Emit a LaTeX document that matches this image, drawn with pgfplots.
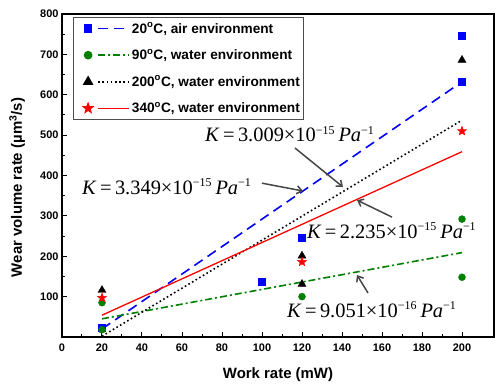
\documentclass[border=0pt]{standalone}
\usepackage{fontspec}
\setmainfont{Liberation Sans}
\newfontfamily\tnr{Liberation Serif}
\usepackage{pgfplots}
\pgfplotsset{compat=1.18}
\usetikzlibrary{arrows.meta}
\definecolor{ogreen}{RGB}{0,128,0}
\definecolor{agray}{RGB}{70,70,70}
\pgfdeclareplotmark{fstar}{%
  \pgfpathmoveto{\pgfpointpolar{90}{\pgfplotmarksize}}%
  \pgfpathlineto{\pgfpointpolar{126}{0.42\pgfplotmarksize}}%
  \pgfpathlineto{\pgfpointpolar{162}{\pgfplotmarksize}}%
  \pgfpathlineto{\pgfpointpolar{198}{0.42\pgfplotmarksize}}%
  \pgfpathlineto{\pgfpointpolar{234}{\pgfplotmarksize}}%
  \pgfpathlineto{\pgfpointpolar{270}{0.42\pgfplotmarksize}}%
  \pgfpathlineto{\pgfpointpolar{306}{\pgfplotmarksize}}%
  \pgfpathlineto{\pgfpointpolar{342}{0.42\pgfplotmarksize}}%
  \pgfpathlineto{\pgfpointpolar{18}{\pgfplotmarksize}}%
  \pgfpathlineto{\pgfpointpolar{54}{0.42\pgfplotmarksize}}%
  \pgfpathclose
  \pgfusepathqfillstroke
}
\pgfplotsset{mklegend/.style={legend image code/.code={%
  \path (-13bp,0bp);
  \draw[##1, mark=none] (10bp,0bp) -- (41bp,0bp);
  \path[##1] plot coordinates {(0bp,0bp)};}}}
\newcommand{\Kval}[2]{{\tnr\fontsize{20.5}{22}\selectfont\textit{K}\,=\,#1\texttimes10\textsuperscript{\fontsize{12}{12}\selectfont−#2}\,\textit{Pa}\textsuperscript{\fontsize{12}{12}\selectfont−1}}}
\begin{document}
\begin{tikzpicture}
\begin{axis}[
  scale only axis,
  width=432bp, height=323bp,
  xmin=0, xmax=216, ymin=0, ymax=800,
  xtick={0,20,...,200}, ytick={100,200,...,800},
  extra y ticks={0}, extra y tick labels={},
  minor x tick num=1, minor y tick num=1,
  tick align=inside, xtick pos=bottom, ytick pos=left,
  major tick length=5bp, minor tick length=3bp,
  axis line style={line width=1.2bp},
  every tick/.style={black, line width=1bp},
  /pgf/number format/assume math mode=true,
  tick label style={font=\fontsize{11}{13}\selectfont\bfseries},
  xticklabel style={yshift=-3bp},
  xlabel={Work rate (mW)},
  ylabel={Wear volume rate (\textmu m\textsuperscript{3}/s)},
  label style={font=\fontsize{15}{17}\selectfont\bfseries},
  xlabel style={at={(axis description cs:0.5,-0.130)}, anchor=base},
  ylabel style={at={(axis description cs:-0.104,0.463)}, anchor=center},
  legend cell align=left,
  legend style={at={(axis description cs:0.0255,0.991)}, anchor=north west,
    font=\fontsize{13.7}{15}\selectfont\bfseries, draw=black!70, line width=0.6bp,
    row sep=10.7bp, inner xsep=1bp, inner ysep=3.5bp, nodes={inner sep=2bp}},
  clip=true,
]
% fits
\addplot[blue, line width=1.6bp, dash pattern=on 10bp off 6bp, forget plot] coordinates {(20,20) (200,632)};
\addplot[ogreen, line width=1.6bp, dash pattern=on 7bp off 3bp on 2bp off 3bp, forget plot] coordinates {(20,45) (200,209)};
\addplot[black, line width=1.6bp, dash pattern=on 1.6bp off 2.6bp, forget plot] coordinates {(20,2) (200,537)};
\addplot[red, line width=1.3bp, forget plot] coordinates {(20,54) (200,459)};
% data
\addplot[only marks, mark=square*, mark size=3.5bp, blue, forget plot] coordinates {(20,22) (100,136) (120,246) (200,632) (200,746)};
\addplot[only marks, mark=*, mark size=3.5bp, ogreen, forget plot] coordinates {(20,18) (20,85) (120,100) (200,148) (200,292)};
\addplot[only marks, mark=triangle*, mark size=4.6bp, black, forget plot] coordinates {(20,116) (120,131) (120,201) (200,686)};
\addplot[only marks, mark=fstar, mark size=4.8bp, red, forget plot] coordinates {(20,97) (120,186) (200,510)};
% legend
\addlegendimage{blue, line width=1.6bp, dash pattern=on 10bp off 6bp, mark=square*, mark size=3.5bp, mark options={solid}, mklegend}
\addlegendentry{20\textsuperscript{o}C, air environment}
\addlegendimage{ogreen, line width=1.6bp, dash pattern=on 7bp off 3bp on 2bp off 3bp, mark=*, mark size=3.5bp, mark options={solid}, mklegend}
\addlegendentry{90\textsuperscript{o}C, water environment}
\addlegendimage{black, line width=1.6bp, dash pattern=on 1.6bp off 2.6bp, mark=triangle*, mark size=4.6bp, mark options={solid}, mklegend}
\addlegendentry{200\textsuperscript{o}C, water environment}
\addlegendimage{red, line width=1.3bp, mark=fstar, mark size=4.8bp, mark options={solid}, mklegend}
\addlegendentry{340\textsuperscript{o}C, water environment}
% annotations
\node[anchor=base west, inner sep=0pt] at (axis cs:71.5,483) {\Kval{3.009}{15}};
\node[anchor=base west, inner sep=0pt] at (axis cs:10,354) {\Kval{3.349}{15}};
\node[anchor=base west, inner sep=0pt] at (axis cs:122.4,245) {\Kval{2.235}{15}};
\node[anchor=base west, inner sep=0pt] at (axis cs:112.5,49.5) {\Kval{9.051}{16}};
\draw[agray, line width=1.5bp, -{Straight Barb[length=5bp,width=8bp]}] (axis cs:100,381) -- (axis cs:120.5,361.6);
\draw[agray, line width=1.5bp, -{Straight Barb[length=5bp,width=8bp]}] (axis cs:116.5,468) -- (axis cs:140.5,371.5);
\draw[agray, line width=1.5bp, -{Straight Barb[length=5bp,width=8bp]}] (axis cs:165,297) -- (axis cs:147.5,339);
\draw[agray, line width=1.5bp, -{Straight Barb[length=5bp,width=8bp]}] (axis cs:153,109) -- (axis cs:147.5,153.6);
\end{axis}
\pgfresetboundingbox
\path ([shift={(-62bp,-50bp)}]current axis.south west) rectangle ([shift={(1bp,14bp)}]current axis.north east);
\end{tikzpicture}
\end{document}
